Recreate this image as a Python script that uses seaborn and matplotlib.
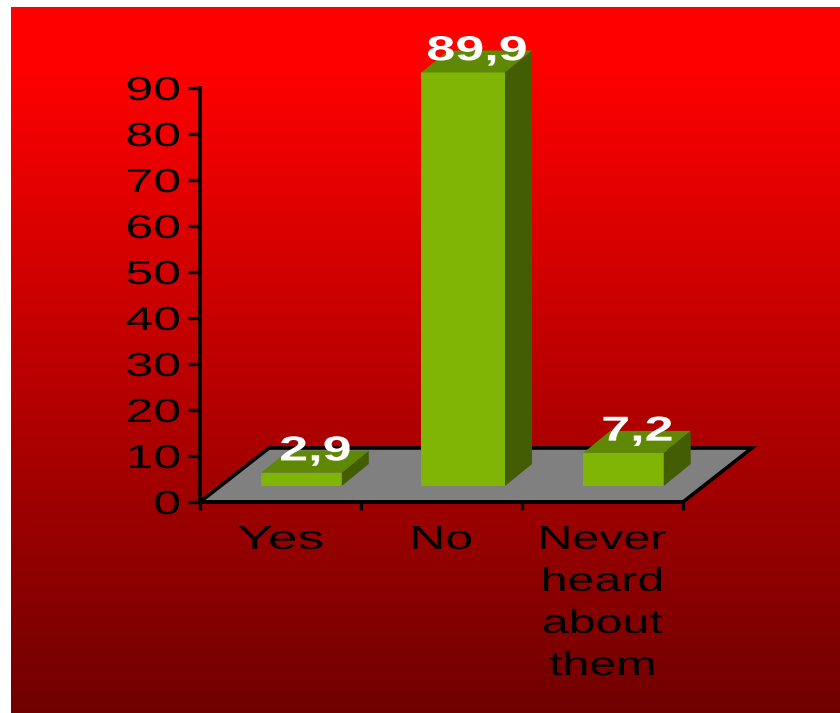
import numpy as np
import matplotlib
matplotlib.use("Agg")
import matplotlib.pyplot as plt
import seaborn as sns
from matplotlib.colors import LinearSegmentedColormap
from matplotlib.patches import Polygon
from matplotlib.patheffects import AbstractPathEffect
from matplotlib.transforms import Affine2D

categories = ["Yes", "No", "Never\nheard\nabout\nthem"]
values = [2.9, 89.9, 7.2]
valueLabels = ["2,9", "89,9", "7,2"]
yTicks = [0, 10, 20, 30, 40, 50, 60, 70, 80, 90]

FRONT = "#80b405"
TOP = "#5f8804"
SIDE = "#425d02"
W, H = 840, 713


class StretchX(AbstractPathEffect):
    # the reference font is stretched sideways, matplotlib can't do that by itself
    def __init__(self, sx, anchor="center"):
        super().__init__()
        self.sx = sx
        self.anchor = anchor

    def draw_path(self, renderer, gc, tpath, affine, rgbFace=None):
        box = tpath.transformed(affine).get_extents()
        cx = box.x1 if self.anchor == "right" else (box.x0 + box.x1) / 2
        stretched = affine + Affine2D().translate(-cx, 0).scale(self.sx, 1).translate(cx, 0)
        renderer.draw_path(gc, tpath, stretched, rgbFace)


def pxAxes(fig, left, top, right, bottom):
    return fig.add_axes([left / W, 1 - bottom / H, (right - left) / W, (bottom - top) / H])


sns.set_theme(style="white")
plt.rcParams["font.family"] = ["Liberation Sans", "DejaVu Sans"]
fig = plt.figure(figsize=(W / 100, H / 100), dpi=100, facecolor="white")

# Background gradient
bg = pxAxes(fig, 11, 7, 840, 713)
redFade = LinearSegmentedColormap.from_list("redFade", [(0, "#ff0000"), (0.08, "#ff0000"), (1, "#700000")])
bg.imshow(np.linspace(0, 1, 256).reshape(-1, 1), aspect="auto", cmap=redFade)
bg.axis("off")

# Value axis
ax = pxAxes(fig, 200, 88, 683, 502)
ax.set_facecolor("none")
ax.set_xlim(-0.5, 2.5)
ax.set_ylim(0, 90)
sns.despine(ax=ax)
for side in ["left", "bottom"]:
    ax.spines[side].set_linewidth(2.6)
    ax.spines[side].set_color("black")
    ax.spines[side].set_zorder(5)

ax.set_yticks(yTicks)
ax.set_xticks([-0.5, 0.5, 1.5, 2.5])
ax.set_xticklabels([])
ax.set_xticks([0, 1, 2], minor=True)
ax.set_xticklabels(categories, minor=True, linespacing=1.46, va="top")
ax.tick_params(axis="y", which="major", left=True, length=8.6, width=2.4, color="black", pad=5.5,
               labelsize=24, labelcolor="black")
ax.tick_params(axis="x", which="major", bottom=True, length=5.8, width=2.4, color="black")
ax.tick_params(axis="x", which="minor", bottom=False, length=0, pad=16.5, labelsize=24, labelcolor="black")
for label in ax.get_yticklabels():
    label.set_path_effects([StretchX(1.5, "right")])
for label, sx in zip(ax.get_xticklabels(minor=True), [1.6, 1.5, 1.45]):
    label.set_path_effects([StretchX(sx)])

# Grey floor
floorDx = 69 / 161
floorDy = 54 / 4.6
ax.add_patch(Polygon([(-0.5, 0), (2.5, 0), (2.5 + floorDx, floorDy), (-0.5 + floorDx, floorDy)],
                     closed=True, facecolor="#808080", edgecolor="black", linewidth=2.6,
                     clip_on=False, joinstyle="miter"))

# Bars sit on the middle of the floor
axBars = pxAxes(fig, 221, 72, 704, 486)
axBars.patch.set_visible(False)
sns.barplot(x=categories, y=values, color=FRONT, saturation=1, width=0.5, ax=axBars, linewidth=0)
axBars.set_xlim(-0.5, 2.5)
axBars.set_ylim(0, 90)
axBars.axis("off")

# the tall bar is a little wider in the original
tallBar = axBars.patches[1]
tallBar.set_x(tallBar.get_x() - 0.006)
tallBar.set_width(0.52)

depthX = 27 / 161
depthY = 22 / 4.6
for bar, text in list(zip(axBars.patches, valueLabels)):
    x0, x1 = bar.get_x(), bar.get_x() + bar.get_width()
    top = bar.get_height()
    axBars.add_patch(Polygon([(x1, 0), (x1 + depthX, depthY), (x1 + depthX, top + depthY), (x1, top)],
                             facecolor=SIDE, edgecolor="none", clip_on=False))
    axBars.add_patch(Polygon([(x0, top), (x1, top), (x1 + depthX, top + depthY), (x0 + depthX, top + depthY)],
                             facecolor=TOP, edgecolor="none", clip_on=False))
    axBars.annotate(text, xy=(x0 + (x1 - x0) / 2, top), xytext=(10, 8.8),
                    textcoords="offset points", ha="center", va="baseline", color="white",
                    fontsize=25, fontweight="bold", annotation_clip=False, zorder=10,
                    path_effects=[StretchX(1.5)])

plt.savefig("out.png", dpi=100, facecolor="white")
plt.close()
